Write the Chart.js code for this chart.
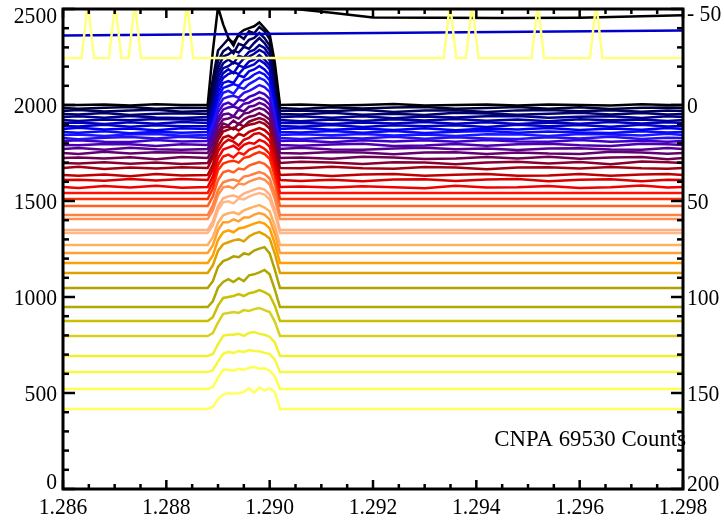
<!DOCTYPE html>
<html>
<head>
<meta charset="utf-8">
<style>
  html, body { margin: 0; padding: 0; background: #fff; }
  #wrap { width: 724px; height: 521px; }
</style>
<script src="https://cdn.jsdelivr.net/npm/chart.js@4.4.1/dist/chart.umd.min.js"></script>
</head>
<body>
<div id="wrap"><canvas id="c" width="724" height="521"></canvas></div>
<script>
// Waterfall of CNPA spectra, offset baselines, with three overlay traces on top.

// x positions of the peak samples (between the flat parts)
const peakX = [1.2889, 1.2890, 1.2891, 1.2892, 1.2893, 1.2894, 1.2895, 1.2896, 1.2897, 1.2898, 1.2899, 1.2900, 1.2901];
const flatLeft = [1.286, 1.2888];
const flatRight = [1.2902, 1.298];
// x positions of the small wiggles on the flat parts of the upper spectra
const wiggleX = [1.2863, 1.2868, 1.2873, 1.2878, 1.2883, 1.2906, 1.2912, 1.2918, 1.2924,
  1.2930, 1.2936, 1.2942, 1.2948, 1.2954, 1.2960, 1.2966, 1.2972, 1.2977];

// baseline of each spectrum, top to bottom
const baselines = [2000, 1984, 1969, 1953, 1937, 1922, 1906, 1891, 1875, 1859, 1844, 1828, 1812,
  1792, 1771, 1750, 1724, 1698, 1672, 1635, 1609, 1573, 1542, 1510, 1474, 1427, 1406,
  1349, 1333, 1271, 1229, 1177, 1125, 1047, 948, 875, 797, 693, 609, 521, 417];

// counts above baseline at peakX, one row per spectrum
const peaks = [
  [280, 510, 420, 350, 310, 370, 390, 400, 410, 430, 400, 370, 220],
  [150, 300, 330, 360, 340, 380, 360, 400, 390, 422, 400, 360, 200],
  [120, 260, 310, 330, 300, 350, 340, 370, 380, 406, 380, 340, 190],
  [110, 240, 300, 310, 330, 320, 350, 340, 370, 396, 370, 330, 180],
  [100, 230, 280, 300, 280, 320, 310, 340, 350, 375, 360, 320, 175],
  [90, 220, 270, 280, 300, 290, 320, 330, 345, 365, 350, 310, 170],
  [90, 210, 260, 280, 260, 300, 290, 320, 330, 354, 330, 300, 165],
  [85, 200, 250, 270, 280, 270, 300, 310, 320, 344, 325, 295, 160],
  [80, 190, 240, 250, 240, 280, 270, 300, 310, 328, 310, 280, 155],
  [75, 180, 230, 240, 250, 240, 270, 280, 300, 312, 300, 270, 150],
  [70, 170, 220, 230, 215, 250, 240, 265, 280, 297, 285, 255, 145],
  [65, 160, 205, 215, 220, 210, 235, 245, 260, 276, 265, 240, 135],
  [60, 150, 190, 200, 185, 215, 210, 230, 240, 255, 245, 220, 125],
  [55, 140, 185, 195, 200, 190, 215, 220, 235, 245, 235, 210, 120],
  [55, 140, 180, 185, 170, 205, 195, 220, 225, 240, 230, 205, 120],
  [50, 135, 175, 180, 190, 180, 205, 210, 225, 234, 225, 200, 115],
  [50, 135, 180, 170, 195, 175, 200, 215, 220, 234, 220, 200, 115],
  [50, 140, 185, 190, 175, 205, 190, 215, 225, 234, 225, 200, 115],
  [55, 145, 190, 200, 210, 195, 215, 225, 230, 240, 230, 205, 120],
  [55, 150, 195, 205, 190, 215, 205, 225, 235, 245, 235, 210, 120],
  [55, 150, 190, 210, 200, 180, 210, 220, 240, 245, 230, 205, 120],
  [55, 150, 195, 205, 215, 195, 220, 230, 225, 245, 235, 210, 120],
  [55, 145, 190, 200, 185, 210, 200, 225, 235, 245, 230, 205, 120],
  [55, 150, 185, 195, 200, 190, 215, 220, 235, 245, 235, 210, 120],
  [50, 135, 175, 185, 175, 195, 190, 210, 220, 229, 220, 195, 115],
  [50, 130, 170, 180, 185, 175, 200, 205, 215, 224, 215, 190, 110],
  [45, 125, 165, 170, 160, 185, 180, 195, 205, 213, 205, 180, 105],
  [45, 125, 165, 175, 180, 170, 190, 200, 210, 219, 210, 185, 105],
  [40, 120, 160, 165, 155, 180, 175, 190, 200, 208, 200, 175, 100],
  [40, 115, 155, 165, 170, 160, 180, 190, 200, 208, 195, 175, 100],
  [40, 120, 160, 160, 175, 165, 185, 185, 200, 208, 200, 175, 100],
  [40, 120, 160, 170, 160, 180, 185, 195, 205, 213, 205, 180, 100],
  [40, 115, 150, 160, 170, 175, 165, 190, 205, 213, 200, 180, 100],
  [35, 110, 140, 150, 165, 160, 180, 175, 195, 205, 213, 180, 95],
  [30, 100, 130, 145, 130, 150, 135, 165, 170, 180, 193, 170, 90],
  [20, 80, 120, 125, 130, 140, 130, 145, 150, 161, 150, 135, 80],
  [15, 70, 115, 120, 125, 120, 135, 130, 140, 146, 135, 125, 75],
  [10, 60, 105, 110, 110, 115, 105, 120, 125, 115, 110, 100, 70],
  [10, 55, 95, 105, 100, 110, 105, 115, 110, 108, 100, 95, 65],
  [10, 60, 100, 100, 95, 105, 100, 110, 115, 105, 108, 95, 65],
  [10, 50, 75, 82, 80, 82, 88, 108, 85, 112, 95, 108, 88]
];

// small deviations from baseline at wiggleX, for the upper spectra only
const wiggles = [
  [0, 3, -2, 4, 0, 2, -3, 0, 5, -2, 0, 3, -3, 2, 0, -2, 4, 0],
  [-4, 2, 5, -3, 2, -5, 4, -2, 3, 6, -4, 0, 5, -3, 4, -5, 2, 3],
  [5, -3, 2, 6, -4, 3, -2, 6, -5, 2, 4, -6, 3, 5, -2, 4, -4, 2],
  [-2, 5, -5, 2, 4, -3, 6, -4, 2, -5, 6, 3, -4, 2, 6, -3, 5, -2],
  [4, -4, 6, -2, -5, 5, -3, 4, -6, 3, -2, 5, 6, -4, 2, 5, -5, 4],
  [-5, 3, -2, 5, 3, -6, 2, -5, 4, -3, 5, -4, 2, -6, 4, -2, 3, -5],
  [3, -5, 4, -4, 6, 2, -5, 3, -2, 6, -3, 4, -5, 3, -4, 6, -2, 4],
  [-3, 6, -4, 3, -2, -4, 5, -6, 4, -2, 3, -5, 6, -2, 5, -4, 6, -3],
  [6, -2, 3, -6, 4, 5, -4, 2, -5, 4, -6, 2, -3, 5, -5, 3, -4, 5],
  [-4, 4, -6, 2, -3, -2, 6, -3, 5, -5, 2, 6, -4, 3, -2, -5, 4, -2],
  [2, -6, 3, 5, -4, 4, -2, 5, -3, 2, -5, 4, 3, -6, 5, 2, -3, 6],
  [-6, 2, 5, -3, 6, -5, 3, -2, 6, -4, 4, -2, -5, 4, -3, 6, -5, 2],
  [4, -3, -5, 6, -2, 3, -6, 4, -2, 5, -3, 6, -2, -4, 6, -3, 2, -4],
  [-2, 5, 3, -5, 4, -4, 2, 6, -5, -3, 5, -4, 4, 6, -2, -5, 6, 3],
  [5, -4, 6, -2, -4, 6, -3, -4, 3, 6, -2, 3, -6, 2, 4, -3, -4, 5],
  [-5, 6, -3, 4, 2, -3, 5, 3, -6, 2, 4, -5, 3, -3, -5, 6, 2, -4],
  [3, -2, 4, -6, 5, 2, -4, 6, 2, -5, -3, 5, -2, 6, -4, 2, 5, -6],
  [-3, 4, -4, 3, -5, 6, 3, -5, 4, 3, -6, 2, 6, -3, 5, -6, 8, 4],
  [6, -5, 2, -3, 4, -2, 6, -2, -4, 5, 3, -6, 2, 4, -3, 5, -2, -4],
  [-4, 3, -6, 5, -2, 4, -5, 3, 6, -3, 2, 5, -4, -2, 6, -4, 3, 5],
  [2, -4, 5, -2, 6, -5, 2, -6, 3, 4, -5, 3, 5, -6, 2, 4, -6, 2],
  [-5, 5, -3, 6, -4, 3, -3, 4, -2, -6, 6, -3, -2, 5, -5, -2, 8, -3]
];

const lineColors = ['#000000', '#00003c', '#000058', '#000070', '#000088', '#0000a0', '#0000b8',
  '#0000d0', '#0000e8', '#0808ff', '#1818ff', '#2810f0', '#4000c8', '#4c00b0', '#580090',
  '#640070', '#700050', '#880030', '#a00010', '#c00000', '#d80000', '#f00000', '#ff1000',
  '#ff3000', '#ff6020', '#ff8040', '#ff9050', '#ffb080', '#ffb888', '#ffb060', '#ffa030',
  '#ffa000', '#e0a000', '#b0a000', '#b0a800', '#c8c000', '#d8d020', '#f0f030', '#f8f840',
  '#ffff50', '#ffff60'];

// overlay traces near the top
const spikeX = [1.28648, 1.28701, 1.28739, 1.28840, 1.29349, 1.29392, 1.29519, 1.29632];
const spikeBase = 2245;
const spikeTop = 2530;
const blueTraceX = [1.286, 1.298];
const blueTraceY = [2362, 2388];
const blackTraceX = [1.2890, 1.2905, 1.2912, 1.2920, 1.2945, 1.2960, 1.2980];
const blackTraceY = [2510, 2500, 2480, 2456, 2453, 2455, 2467];

// axis labels
const xTicks = [1.286, 1.288, 1.290, 1.292, 1.294, 1.296, 1.298];
const yTicks = [0, 500, 1000, 1500, 2000, 2500];
const rightTicks = [-50, 0, 50, 100, 150, 200];
const label = 'CNPA 69530 Counts';

const FONT = '24px "Liberation Serif", "DejaVu Serif", serif';

function spectrum(i) {
  const b = baselines[i];
  const pts = flatLeft.concat(flatRight).map(x => ({ x, y: b }));
  peakX.forEach((x, k) => pts.push({ x, y: b + peaks[i][k] }));
  if (wiggles[i]) wiggleX.forEach((x, k) => pts.push({ x, y: b + wiggles[i][k] }));
  return pts.sort((p, q) => p.x - q.x);
}

function spikeTrace() {
  const pts = [{ x: 1.286, y: spikeBase }];
  spikeX.forEach(x => {
    pts.push({ x: x - 0.00012, y: spikeBase });
    pts.push({ x, y: spikeTop });
    pts.push({ x: x + 0.00012, y: spikeBase });
  });
  pts.push({ x: 1.298, y: spikeBase });
  return pts;
}

function lineSet(data, color) {
  return { data, borderColor: color, borderWidth: 2.5, pointRadius: 0, tension: 0, fill: false };
}

const datasets = [
  lineSet(spikeTrace(), '#ffff80'),
  lineSet(blueTraceX.map((x, i) => ({ x, y: blueTraceY[i] })), '#0000c8'),
  lineSet(blackTraceX.map((x, i) => ({ x, y: blackTraceY[i] })), '#000000')
];
baselines.forEach((b, i) => datasets.push(lineSet(spectrum(i), lineColors[i])));

// condensed serif text, like the original plot
function text(ctx, str, x, y, align, sx) {
  ctx.save();
  ctx.translate(x, y);
  ctx.scale(sx || 0.9, 1);
  ctx.textAlign = align;
  ctx.fillText(str, 0, 0);
  ctx.restore();
}

// frame, inward ticks and labels, IDL style
const framePlugin = {
  id: 'frame',
  afterDraw(chart) {
    const ctx = chart.ctx;
    const a = chart.chartArea;
    const xs = chart.scales.x, ys = chart.scales.y, rs = chart.scales.y2;
    const seg = (x1, y1, x2, y2) => { ctx.beginPath(); ctx.moveTo(x1, y1); ctx.lineTo(x2, y2); ctx.stroke(); };
    ctx.save();
    ctx.strokeStyle = '#000';
    ctx.lineWidth = 2.5;
    for (let k = 0; k <= 24; k++) {
      const px = xs.getPixelForValue(1.286 + k * 0.0005);
      const len = k % 4 === 0 ? 9 : 5;
      seg(px, a.bottom, px, a.bottom - len);
      seg(px, a.top, px, a.top + len);
    }
    for (let k = 0; k <= 25; k++) {
      const py = ys.getPixelForValue(k * 100);
      const len = k % 5 === 0 ? 12 : 6;
      seg(a.left, py, a.left + len, py);
      seg(a.right, py, a.right - len, py);
    }
    ctx.lineWidth = 3;
    ctx.strokeRect(a.left, a.top, a.right - a.left, a.bottom - a.top);

    ctx.fillStyle = '#000';
    ctx.font = FONT;
    ctx.textBaseline = 'middle';
    yTicks.forEach(v => {
      const py = Math.min(Math.max(ys.getPixelForValue(v) + 1.5, 17), 483);
      text(ctx, String(v), a.left - 6, py, 'right');
    });
    rightTicks.forEach(v => {
      const py = Math.min(Math.max(rs.getPixelForValue(v) + 1.5, 15), 485);
      text(ctx, v < 0 ? '- ' + Math.abs(v) : String(v), a.right + 4, py, 'left');
    });
    xTicks.forEach(v => text(ctx, v.toFixed(3), xs.getPixelForValue(v), 508, 'center'));
    text(ctx, label, a.right + 3, 440, 'right', 0.95);
    ctx.restore();
  }
};

const hidden = { display: false };
new Chart(document.getElementById('c'), {
  type: 'line',
  data: { datasets },
  options: {
    responsive: false,
    devicePixelRatio: 1,
    animation: false,
    layout: { padding: { top: 9, left: 0, right: 0, bottom: 0 } },
    plugins: { legend: hidden, tooltip: { enabled: false } },
    scales: {
      x: {
        type: 'linear', min: 1.286, max: 1.298, position: 'bottom',
        grid: hidden, border: hidden, ticks: hidden,
        afterFit: s => { s.height = 32; }
      },
      y: {
        type: 'linear', min: 0, max: 2500, position: 'left',
        grid: hidden, border: hidden, ticks: hidden,
        afterFit: s => { s.width = 63; }
      },
      y2: {
        type: 'linear', min: -50, max: 200, reverse: true, position: 'right',
        grid: hidden, border: hidden, ticks: hidden,
        afterFit: s => { s.width = 41; }
      }
    }
  },
  plugins: [framePlugin]
});
</script>
</body>
</html>
